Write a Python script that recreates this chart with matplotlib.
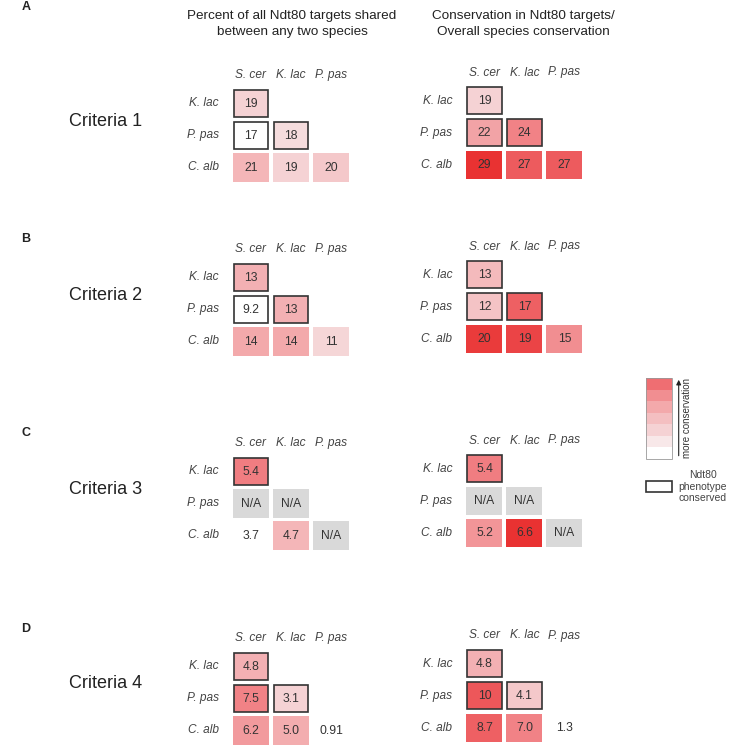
import numpy as np
import matplotlib.pyplot as plt
from matplotlib.patches import Rectangle
from matplotlib.colors import LinearSegmentedColormap

plt.rcParams['font.family'] = ['Liberation Sans', 'DejaVu Sans']

col_species = ['S. cer', 'K. lac', 'P. pas']
row_species = ['K. lac', 'P. pas', 'C. alb']
# lower triangle, (row, col)
cell_rc = [(0, 0), (1, 0), (1, 1), (2, 0), (2, 1), (2, 2)]

criteria = ['Criteria 1', 'Criteria 2', 'Criteria 3', 'Criteria 4']
panel_letters = ['A', 'B', 'C', 'D']

# percent of all Ndt80 targets shared
shared_text = [['19', '17', '18', '21', '19', '20'],
               ['13', '9.2', '13', '14', '14', '11'],
               ['5.4', 'N/A', 'N/A', '3.7', '4.7', 'N/A'],
               ['4.8', '7.5', '3.1', '6.2', '5.0', '0.91']]
shared_shade = [[0.2, 0.0, 0.15, 0.35, 0.2, 0.25],
                [0.38, 0.0, 0.38, 0.42, 0.42, 0.18],
                [0.62, None, None, 0.0, 0.35, None],
                [0.38, 0.6, 0.2, 0.5, 0.4, 0.0]]

# conservation in Ndt80 targets / overall
cons_text = [['19', '22', '24', '29', '27', '27'],
             ['13', '12', '17', '20', '19', '15'],
             ['5.4', 'N/A', 'N/A', '5.2', '6.6', 'N/A'],
             ['4.8', '10', '4.1', '8.7', '7.0', '1.3']]
cons_shade = [[0.2, 0.45, 0.6, 1.0, 0.78, 0.78],
              [0.33, 0.28, 0.75, 0.95, 0.9, 0.55],
              [0.62, None, None, 0.52, 1.0, None],
              [0.38, 0.8, 0.25, 0.75, 0.6, 0.0]]

# Ndt80 phenotype conserved
phenotype_kept = [[1, 1, 1, 0, 0, 0],
                  [1, 1, 1, 0, 0, 0],
                  [1, 0, 0, 0, 0, 0],
                  [1, 1, 1, 0, 0, 0]]

legend_levels = [0.0, 0.1, 0.2, 0.3, 0.42, 0.55, 0.68]

cmap = LinearSegmentedColormap.from_list(
    'cons', [(0, '#ffffff'), (0.15, '#f5dcdd'), (0.3, '#f4bfc1'),
             (0.5, '#f29a9d'), (0.7, '#ef6a6e'), (1.0, '#e93232')])

fig = plt.figure(figsize=(7.48, 7.51), dpi=100)
ax = fig.add_axes([0, 0, 1, 1])
ax.set_xlim(0, 748)
ax.set_ylim(751, 0)
ax.axis('off')

txt_col = '#333333'
lab_col = '#444444'
cw, ch = 36, 28.5
px, py = 40, 32


def draw_grid(x0, y0, texts, shades, boxed):
    for j, name in enumerate(col_species):
        ax.text(x0 + j * px + cw / 2, y0 - 14, name, style='italic',
                fontsize=8.6, color=lab_col, ha='center', va='center')
    for i, name in enumerate(row_species):
        ax.text(x0 - 14, y0 + i * py + ch / 2, name, style='italic',
                fontsize=8.6, color=lab_col, ha='right', va='center')
    for k, (r, c) in enumerate(cell_rc):
        x = x0 + c * px
        y = y0 + r * py
        s = shades[k]
        face = '#d9d9d9' if s is None else cmap(s)
        if boxed[k]:
            ax.add_patch(Rectangle((x + 0.8, y + 0.8), cw - 1.6, ch - 1.6,
                                   facecolor=face, edgecolor='#333333', lw=1.2))
        else:
            ax.add_patch(Rectangle((x, y), cw, ch, facecolor=face, edgecolor='none'))
        ax.text(x + cw / 2, y + ch / 2 + 0.5, texts[k], fontsize=8.7,
                color=txt_col, ha='center', va='center')


ax.text(292, 15.7, 'Percent of all Ndt80 targets shared', fontsize=9.7,
        color='#222222', ha='center', va='center')
ax.text(292, 32.3, 'between any two species', fontsize=9.7,
        color='#222222', ha='center', va='center')
ax.text(523, 15.7, 'Conservation in Ndt80 targets/', fontsize=9.7,
        color='#222222', ha='center', va='center')
ax.text(523, 32.3, 'Overall species conservation', fontsize=9.7,
        color='#222222', ha='center', va='center')

panel_tops = [89, 263, 457, 652]
for n in range(4):
    top = panel_tops[n]
    ly = 6.7 if n == 0 else top - 23.5
    ax.text(26, ly, panel_letters[n], fontsize=9, fontweight='bold',
            color='#222222', ha='center', va='center')
    ax.text(69, top + 32, criteria[n], fontsize=13, color='#222222',
            ha='left', va='center')
    draw_grid(233, top, shared_text[n], shared_shade[n], phenotype_kept[n])
    draw_grid(466.5, top - 2.5, cons_text[n], cons_shade[n], phenotype_kept[n])

# legend: colour scale
bx, bw, bh = 645.7, 26, 11.5
btop = 378
for k, lev in enumerate(legend_levels[::-1]):
    ax.add_patch(Rectangle((bx, btop + k * bh), bw, bh,
                           facecolor=cmap(lev), edgecolor='none'))
ax.add_patch(Rectangle((bx, btop), bw, bh * len(legend_levels),
                       facecolor='none', edgecolor='#999999', lw=0.6))
ax.annotate('', xy=(678.7, btop - 1), xytext=(678.7, btop + bh * 7),
            arrowprops=dict(arrowstyle='-|>', color='#222222', lw=0.8,
                            mutation_scale=7))
ax.text(687, btop + bh * 3.5, 'more conservation', rotation=90,
        fontsize=7, color='#333333', ha='center', va='center')

ax.add_patch(Rectangle((bx, 481), bw, 10.5, facecolor='white',
                       edgecolor='#333333', lw=1.2))
ax.text(703, 486.5, 'Ndt80\nphenotype\nconserved', fontsize=7.5,
        color='#444444', ha='center', va='center', linespacing=1.2)

fig.savefig('out.png', dpi=100)
